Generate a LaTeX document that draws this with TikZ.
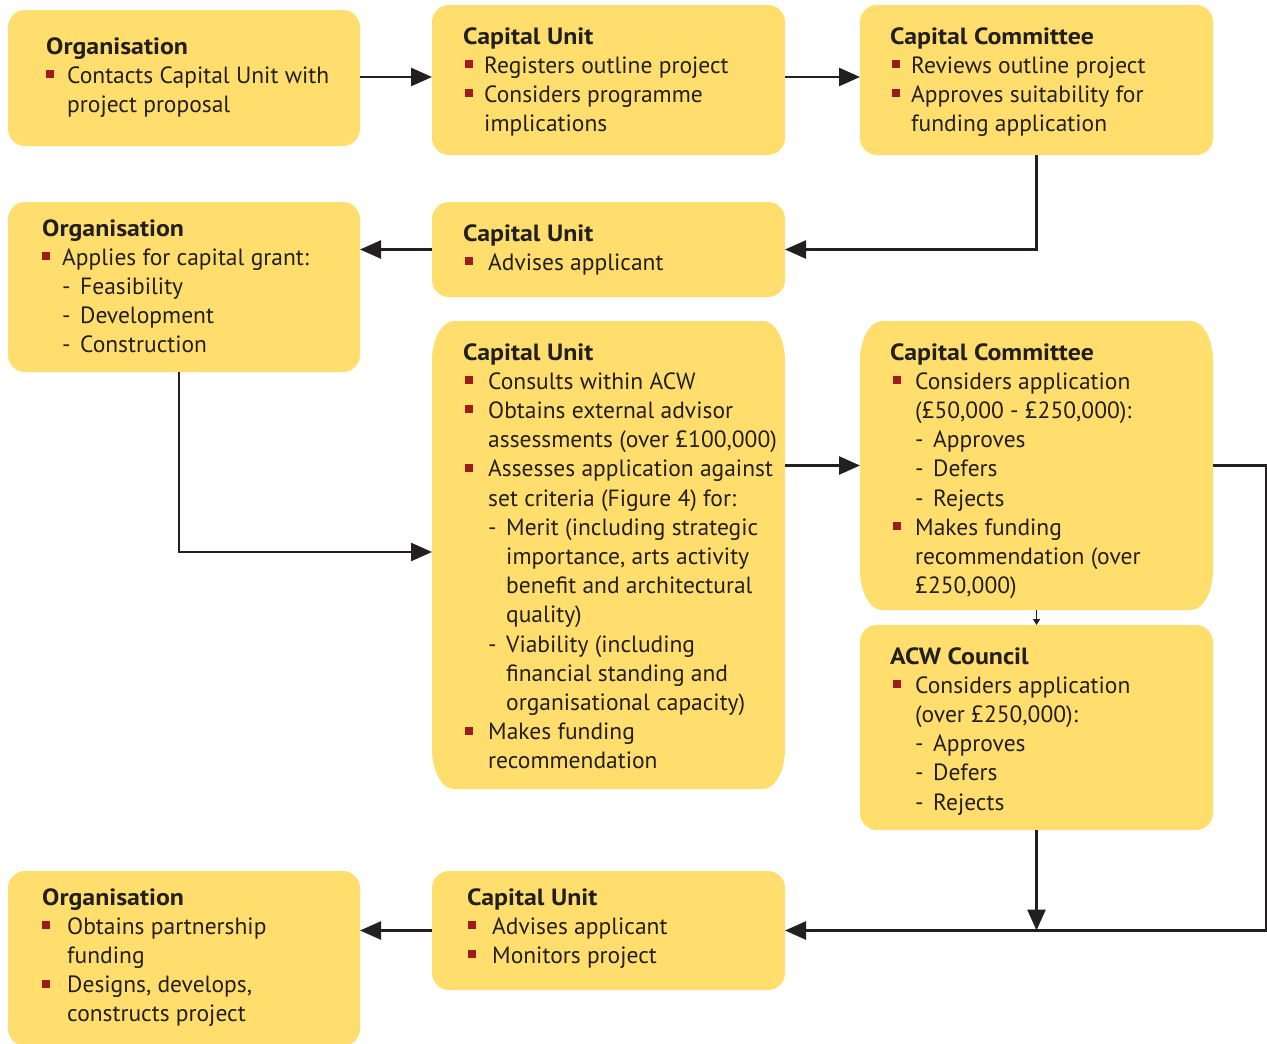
\documentclass[tikz,border=0pt]{standalone}
\usepackage{fontspec}
\setmainfont{PT Sans}
\newfontfamily\hdfont{PT Sans}[FakeStretch=1.1]
\usetikzlibrary{arrows.meta}
\definecolor{boxy}{HTML}{FFDE6E}
\definecolor{ink}{HTML}{231F20}
\definecolor{bred}{HTML}{9E1C20}
\newlength\bi
\newcommand\hd[1]{{\hdfont\bfseries #1}}
\newcommand\bu[1]{\makebox[\bi][l]{\textcolor{bred}{\rule[5pt]{8pt}{8pt}}}#1}
\newcommand\ct[1]{\hspace*{\bi}#1}
\newcommand\da[1]{\hspace*{\bi}\makebox[18pt][l]{-}#1}
\newcommand\dc[1]{\hspace*{\bi}\hspace*{18pt}#1}
% box: name, x1, y1, x2, y2, rx, ry
\newcommand\ybox[7]{%
  \fill[boxy] (#2,#3+#7) .. controls (#2,#3+0.45*#7) and (#2+0.45*#6,#3) .. (#2+#6,#3)
    -- (#4-#6,#3) .. controls (#4-0.45*#6,#3) and (#4,#3+0.45*#7) .. (#4,#3+#7)
    -- (#4,#5-#7) .. controls (#4,#5-0.45*#7) and (#4-0.45*#6,#5) .. (#4-#6,#5)
    -- (#2+#6,#5) .. controls (#2+0.45*#6,#5) and (#2,#5-0.45*#7) .. (#2,#5-#7) -- cycle;
  \node[boxnode, minimum width={(#4-#2)*1pt}, minimum height={(#5-#3)*1pt}] (#1) at ({(#2+#4)/2},{(#3+#5)/2}) {};%
}
\begin{document}
\begin{tikzpicture}[x=1pt,y=-1pt,
  boxnode/.style={draw=none, inner sep=0pt, outer sep=0pt, rectangle},
  txt/.style={anchor=base west, inner sep=0pt, text=ink, font=\fontsize{23.5}{29.2}\selectfont},
  arr/.style={line width=2.6pt, draw=ink, -{Triangle[length=21pt,width=18pt]}},
  sarr/.style={line width=1.6pt, draw=ink, -{Triangle[length=6pt,width=7pt]}}]
\clip (0,0) rectangle (1267,1044);
\fill[white] (0,0) rectangle (1267,1044);
% boxes
\ybox{org1}{8}{10}{360}{146}{17}{17}
\ybox{cu1}{432}{5}{785}{155}{17}{17}
\ybox{cc1}{860}{5}{1213}{155}{17}{17}
\ybox{org2}{8}{202}{360}{372}{17}{17}
\ybox{cu2}{432}{202}{785}{297}{17}{17}
\ybox{cu3}{432}{321}{785}{789}{22}{40}
\ybox{cc2}{860}{321}{1213}{610}{22}{40}
\ybox{acw}{860}{625}{1213}{830}{17}{17}
\ybox{org3}{8}{871}{360}{1046}{17}{17}
\ybox{cu4}{432}{871}{785}{990}{17}{17}
% texts
\node[txt] (t-org1) at (46,54) {\parbox[t]{330pt}{\setlength\bi{21pt}%
  \hd{Organisation}\\ \bu{Contacts Capital Unit with}\\ \ct{project proposal}}};
\node[txt] (t-cu1) at (465,44) {\parbox[t]{330pt}{\setlength\bi{19pt}%
  \hspace*{-2pt}\hd{Capital Unit}\\ \bu{Registers outline project}\\ \bu{Considers programme}\\ \ct{implications}}};
\node[txt] (t-cc1) at (892,44) {\parbox[t]{330pt}{\setlength\bi{19pt}%
  \hspace*{-2pt}\hd{Capital Committee}\\ \bu{Reviews outline project}\\ \bu{Approves suitability for}\\ \ct{funding application}}};
\node[txt] (t-org2) at (42,236) {\parbox[t]{330pt}{\setlength\bi{20pt}%
  \hd{Organisation}\\ \bu{Applies for capital grant:}\\ \da{Feasibility}\\ \da{Development}\\ \da{Construction}}};
\node[txt] (t-cu2) at (465,241) {\parbox[t]{330pt}{\setlength\bi{23pt}%
  \hspace*{-2pt}\hd{Capital Unit}\\ \bu{Advises applicant}}};
\node[txt] (t-cu3) at (465,360) {\parbox[t]{330pt}{\setlength\bi{23pt}%
  \hspace*{-2pt}\hd{Capital Unit}\\ \bu{Consults within ACW}\\ \bu{Obtains external advisor}\\ \ct{assessments (over £100,000)}\\
  \bu{Assesses application against}\\ \ct{set criteria (Figure 4) for:}\\
  \da{Merit (including strategic}\\ \dc{importance, arts activity}\\ \dc{benefit and architectural}\\ \dc{quality)}\\
  \da{Viability (including}\\ \dc{financial standing and}\\ \dc{organisational capacity)}\\
  \bu{Makes funding}\\ \ct{recommendation}}};
\node[txt] (t-cc2) at (893,360) {\parbox[t]{330pt}{\setlength\bi{22pt}%
  \hspace*{-3pt}\hd{Capital Committee}\\ \bu{Considers application}\\ \ct{(£50,000 - £250,000):}\\
  \da{Approves}\\ \da{Defers}\\ \da{Rejects}\\
  \bu{Makes funding}\\ \ct{recommendation (over}\\ \ct{£250,000)}}};
\node[txt] (t-acw) at (893,664) {\parbox[t]{330pt}{\setlength\bi{22pt}%
  \hspace*{-3pt}\hd{ACW Council}\\ \bu{Considers application}\\ \ct{(over £250,000):}\\
  \da{Approves}\\ \da{Defers}\\ \da{Rejects}}};
\node[txt] (t-cu4) at (468,905) {\parbox[t]{330pt}{\setlength\bi{24pt}%
  \hspace*{-1pt}\hd{Capital Unit}\\ \bu{Advises applicant}\\ \bu{Monitors project}}};
\node[txt] (t-org3) at (42,905) {\parbox[t]{330pt}{\setlength\bi{25pt}%
  \hd{Organisation}\\ \bu{Obtains partnership}\\ \ct{funding}\\ \bu{Designs, develops,}\\ \ct{constructs project}}};
% connectors
\coordinate (rt) at ([xshift=481pt]cu4.east);
\draw[arr] ([yshift=1pt]org1.east) -- ([yshift=1pt]org1.east -| cu1.west);
\draw[arr] ([yshift=3pt]cu1.east) -- ([yshift=3pt]cu1.east -| cc1.west);
\draw[arr] (cc1.south) |- (cu2.east);
\draw[arr] (cu2.west) -- (cu2.west -| org2.east);
\draw[arr] ([xshift=-5pt]org2.south) |- ([yshift=3pt]cu3.west);
\draw[arr] (cc2.west -| cu3.east) -- (cc2.west);
\draw[sarr] (cc2.south) -- (acw.north);
\draw[arr] (cc2.east) -| (rt) -- (cu4.east);
\draw[arr] (acw.south) -- (acw.south |- cu4.east);
\draw[arr] (cu4.west) -- (cu4.west -| org3.east);
\end{tikzpicture}
\end{document}
